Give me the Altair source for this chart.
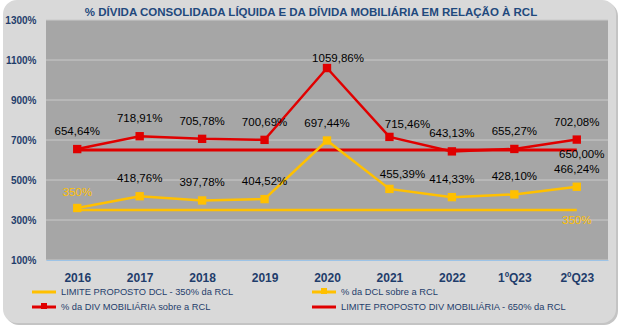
import altair as alt
import pandas as pd

# ---- data ----
categories = ["2016", "2017", "2018", "2019", "2020", "2021", "2022", "1ºQ23", "2ºQ23"]
dcl_values = [360.0, 418.76, 397.78, 404.52, 697.44, 455.39, 414.33, 428.10, 466.24]
mob_values = [654.64, 718.91, 705.78, 700.69, 1059.86, 715.46, 643.13, 655.27, 702.08]
limit_dcl = 350.0
limit_mob = 650.0
y_ticks = [100, 300, 500, 700, 900, 1100, 1300]

title_text = "% DÍVIDA CONSOLIDADA LÍQUIDA E DA DÍVIDA MOBILIÁRIA EM RELAÇÃO À RCL"
legend_names = [
    "LIMITE PROPOSTO DCL - 350% da RCL",
    "% da DCL sobre a RCL",
    "% da DIV MOBILIÁRIA sobre a RCL",
    "LIMITE PROPOSTO DIV MOBILIÁRIA - 650% da RCL",
]


def fmt(v):
    return f"{v:.2f}".replace(".", ",") + "%"


df = pd.DataFrame({
    "cat": categories,
    "dcl": dcl_values,
    "mob": mob_values,
    "lim_dcl": [limit_dcl] * len(categories),
    "lim_mob": [limit_mob] * len(categories),
    "dcl_lbl": [""] + [fmt(v) for v in dcl_values[1:]],
    "mob_lbl": [fmt(v) for v in mob_values],
})
grid_df = pd.DataFrame({"g": y_ticks})
one = pd.DataFrame({"a": [0]})

# ---- styles ----
W, H = 562, 240
YELLOW = "#ffc000"
RED = "#e00000"
NAVY = "#1f3d6b"
FONT = "Liberation Sans"

xs = alt.Scale(type="point", domain=categories, padding=0.5)
ys = alt.Scale(domain=[100, 1300], nice=False, zero=False)

X = alt.X("cat:N", scale=xs, sort=categories,
          axis=alt.Axis(title=None, labelAngle=0, labelFont=FONT, labelFontSize=12,
                        labelFontWeight="bold", labelColor=NAVY, labelPadding=12,
                        ticks=False, tickSize=0, grid=False, zindex=1,
                        domainColor="#9dc3e6", domainWidth=1))


def Y(field):
    return alt.Y(f"{field}:Q", scale=ys,
                 axis=alt.Axis(title=None, values=y_ticks, labelExpr="datum.value + '%'",
                               labelFont=FONT, labelFontSize=10, labelFontWeight="bold",
                               labelColor=NAVY, labelPadding=10, ticks=False, tickSize=0,
                               domain=False, grid=False, zindex=1))


base = alt.Chart(df)

# backgrounds
outer = alt.Chart(one).mark_rect(fill="#d9d9d9", cornerRadius=14).encode(
    x=alt.value(-43), x2=alt.value(570), y=alt.value(-20), y2=alt.value(303))
shadow = alt.Chart(one).mark_rect(fill="#c4c4c4", cornerRadius=14).encode(
    x=alt.value(-41), x2=alt.value(572), y=alt.value(-18), y2=alt.value(305))
plotbg = alt.Chart(one).mark_rect(fill="#a6a6a6").encode(
    x=alt.value(0), x2=alt.value(W), y=alt.value(0), y2=alt.value(H))
grid = alt.Chart(grid_df).mark_rule(color="#c9c9c9", strokeWidth=1).encode(
    y=Y("g"), x=alt.value(0), x2=alt.value(W))

# lines
lim_dcl_line = base.mark_line(color=YELLOW, strokeWidth=2.5).encode(x=X, y=Y("lim_dcl"))
lim_mob_line = base.mark_line(color=RED, strokeWidth=3).encode(x=X, y=Y("lim_mob"))
dcl_line = base.mark_line(color=YELLOW, strokeWidth=2.5,
                          point=alt.OverlayMarkDef(shape="square", size=70, filled=True,
                                                   color=YELLOW, opacity=1)).encode(x=X, y=Y("dcl"))
mob_line = base.mark_line(color=RED, strokeWidth=2.5,
                          point=alt.OverlayMarkDef(shape="square", size=70, filled=True,
                                                   color=RED, opacity=1)).encode(x=X, y=Y("mob"))

# labels
lbl_kw = dict(font=FONT, fontSize=11.5, color="#000000", baseline="middle", align="center")
special = ["2020", "2021"]
mob_lbl = base.mark_text(dy=-17, **lbl_kw).encode(x=X, y=Y("mob"), text="mob_lbl:N").transform_filter(
    alt.FieldOneOfPredicate(field="cat", oneOf=[c for c in categories if c not in special]))
mob_lbl_2020 = base.mark_text(dy=-9, dx=11, **lbl_kw).encode(x=X, y=Y("mob"), text="mob_lbl:N").transform_filter(
    alt.datum.cat == "2020")
mob_lbl_2021 = base.mark_text(dy=-12, dx=18, **lbl_kw).encode(x=X, y=Y("mob"), text="mob_lbl:N").transform_filter(
    alt.datum.cat == "2021")
dcl_lbl = base.mark_text(dy=-17, **lbl_kw).encode(x=X, y=Y("dcl"), text="dcl_lbl:N").transform_filter(
    alt.datum.cat != "2021")
dcl_lbl_2021 = base.mark_text(dy=-14, dx=13, **lbl_kw).encode(x=X, y=Y("dcl"), text="dcl_lbl:N").transform_filter(
    alt.datum.cat == "2021")

first_cat, last_cat = categories[0], categories[-1]
lim_dcl_lbl1 = base.mark_text(dy=-17, font=FONT, fontSize=11.5, color=YELLOW, baseline="middle").encode(
    x=X, y=Y("lim_dcl"), text=alt.value(f"{limit_dcl:.0f}%")).transform_filter(alt.datum.cat == first_cat)
lim_dcl_lbl2 = base.mark_text(dy=11, font=FONT, fontSize=11.5, color=YELLOW, baseline="middle").encode(
    x=X, y=Y("lim_dcl"), text=alt.value(f"{limit_dcl:.0f}%")).transform_filter(alt.datum.cat == last_cat)
lim_mob_lbl = base.mark_text(dy=5, dx=5, **lbl_kw).encode(
    x=X, y=Y("lim_mob"), text=alt.value(fmt(limit_mob))).transform_filter(alt.datum.cat == last_cat)

# title
title = alt.Chart(one).mark_text(font=FONT, fontSize=11.5, fontWeight="bold", color="#1f497d",
                                 baseline="middle", align="center").encode(
    x=alt.value(265), y=alt.value(-7), text=alt.value(title_text))

# legend (manual)
legend_layers = []
leg_pos = [(-14, 272), (266, 272), (-14, 287), (266, 287)]
leg_col = [YELLOW, YELLOW, RED, RED]
leg_mark = [False, True, True, False]
for name, (lx, ly), col, mk in zip(legend_names, leg_pos, leg_col, leg_mark):
    legend_layers.append(alt.Chart(one).mark_rule(color=col, strokeWidth=3).encode(
        x=alt.value(lx), x2=alt.value(lx + 24), y=alt.value(ly)))
    if mk:
        legend_layers.append(alt.Chart(one).mark_square(color=col, size=36, opacity=1).encode(
            x=alt.value(lx + 12), y=alt.value(ly - 1)))
    legend_layers.append(alt.Chart(one).mark_text(font=FONT, fontSize=9.3,
                                                  color=NAVY, align="left",
                                                  baseline="middle").encode(
        x=alt.value(lx + 29), y=alt.value(ly), text=alt.value(name)))

chart = alt.layer(
    shadow, outer, plotbg, grid,
    lim_dcl_line, lim_mob_line, dcl_line, mob_line,
    mob_lbl, mob_lbl_2020, mob_lbl_2021, dcl_lbl, dcl_lbl_2021,
    lim_dcl_lbl1, lim_dcl_lbl2, lim_mob_lbl, title,
    *legend_layers,
).properties(
    width=W, height=H,
    autosize=alt.AutoSizeParams(type="none"),
    padding={"left": 46, "top": 20, "right": 14, "bottom": 67},
    background="white",
).configure_view(stroke=None, fill=None)

chart.save("out.html", embed_options={"renderer": "svg", "actions": False})
